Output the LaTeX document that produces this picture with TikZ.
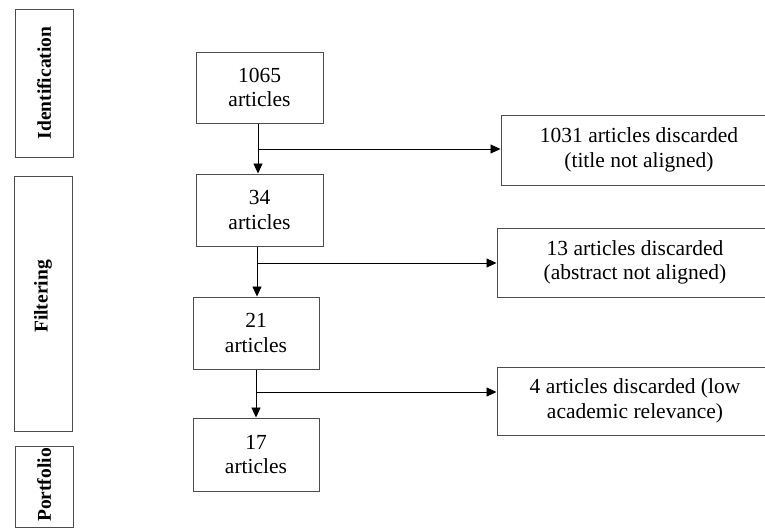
\documentclass[tikz,border=0pt]{standalone}
\usepackage{fontspec}
\setmainfont{Liberation Serif}
\usetikzlibrary{arrows.meta}

\begin{document}
\begin{tikzpicture}[x=1pt, y=-1pt,
    stagebox/.style={draw=black!70, line width=1pt, minimum width=58pt, inner sep=0pt,
      font=\fontsize{19.5}{23}\selectfont\bfseries},
    countbox/.style={draw=black!70, line width=1pt, align=center, inner sep=0pt,
      minimum width=127pt, minimum height=72pt, font=\fontsize{21.5}{24.5}\selectfont},
    dropbox/.style={draw=black!70, line width=1pt, align=center, inner sep=0pt,
      minimum width=276pt, font=\fontsize{21.5}{24.5}\selectfont},
    flow/.style={line width=0.9pt, -{Triangle[length=10pt,width=9pt]}}]
		\clip (0,0) rectangle (765,528);

		% stages on the left
		\node[stagebox, minimum height=148pt] (ident) at (44,83) {\rotatebox{90}{Identification}};
		\node[stagebox, minimum height=255pt] (filt) at (43,303.5) {\rotatebox{90}{\hspace{14pt}Filtering}};
		\node[stagebox, minimum height=81pt] (port) at (44,486.5) {\rotatebox{90}{\hspace{3pt}Portfolio}};

		% article counts
		\node[countbox, minimum height=71pt] (n1065) at (259.5,87.5) {1065\\articles};
		\node[countbox] (n34) at (259.5,210) {34\\articles};
		\node[countbox, minimum width=126pt] (n21) at (256,333) {21\\articles};
		\node[countbox, minimum width=126pt, minimum height=73pt] (n17) at (256,454.5) {17\\articles};

		% discarded articles
		\node[dropbox, minimum height=70pt] (d1031) at (639,150) {1031 articles discarded\\(title not aligned)};
		\node[dropbox, minimum height=69pt] (d13) at (635,262.5) {13 articles discarded\\(abstract not aligned)};
		\node[dropbox, minimum height=68pt] (d4) at (635,401) {4 articles discarded (low\\academic relevance)};

		\coordinate (b1) at (258,149);
		\coordinate (b2) at (257,263);
		\coordinate (b3) at (256,392);

		\draw[flow] (n1065.south -| b1) -- (n34.north -| b1);
		\draw[flow] (n34.south -| b2) -- (n21.north -| b2);
		\draw[flow] (n21.south -| b3) -- (n17.north -| b3);

		\draw[flow] (b1) -- (b1 -| d1031.west);
		\draw[flow] (b2) -- (b2 -| d13.west);
		\draw[flow] (b3) -- (b3 -| d4.west);
\end{tikzpicture}
\end{document}
